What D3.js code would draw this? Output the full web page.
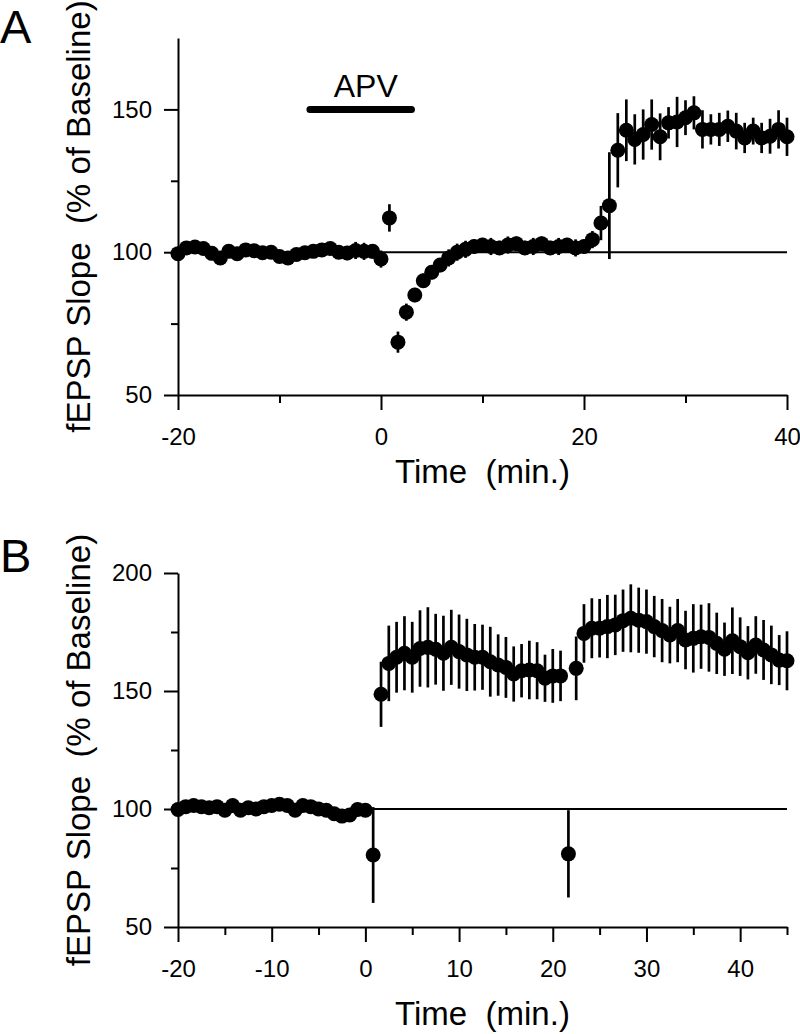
<!DOCTYPE html>
<html>
<head>
<meta charset="utf-8">
<script src="https://cdn.jsdelivr.net/npm/d3@7"></script>
<style>
  html, body { margin: 0; padding: 0; background: #fff; }
  svg { display: block; }
  text { font-family: "Liberation Sans", Arial, Helvetica, sans-serif; fill: #000; }
</style>
</head>
<body>
<svg id="chart" width="800" height="1034"></svg>
<script>
// ---------------- DATA ----------------
const timesA = [-20, -19.17, -18.33, -17.5, -16.67, -15.83, -15, -14.17, -13.33, -12.5, -11.67, -10.83, -10, -9.17, -8.33, -7.5, -6.67, -5.83, -5, -4.17, -3.33, -2.5, -1.67, -0.83, 0,
  0.83, 1.67, 2.5, 3.33, 4.17, 5, 5.83, 6.67, 7.5, 8.33, 9.17, 10, 10.83, 11.67, 12.5, 13.33, 14.17, 15, 15.83, 16.67, 17.5, 18.33, 19.17, 20,
  20.83, 21.67, 22.5, 23.33, 24.17, 25, 25.83, 26.67, 27.5, 28.33, 29.17, 30, 30.83, 31.67, 32.5, 33.33, 34.17, 35, 35.83, 36.67, 37.5, 38.33, 39.17, 40];
const slopeA = [99.5, 101.5, 101.8, 101.3, 99.6, 98, 100.3, 99.5, 100.8, 100.5, 99.8, 100, 98.5, 98, 99.2, 99.8, 100.3, 100.8, 101.3, 100, 99.7, 100.6, 100.3, 100.3, 97.6,
  112, 68.5, 79, 85, 90, 93, 95.5, 98, 100, 101, 102, 102.5, 102, 101.5, 102.5, 103, 101.5, 102, 103, 101.5, 102, 102.5, 101.5, 102,
  104.4, 110.2, 116.3, 135.7, 142.7, 139.5, 141.2, 144.7, 140.4, 145.3, 145.6, 147.1, 148.8, 143, 143, 143, 144.1, 142.4, 140, 142.4, 140, 140.6, 143, 140.4];
const semA = [1.5, 1.5, 1.5, 1.5, 1.5, 2, 1.5, 1.5, 1.5, 1.5, 1.5, 1.5, 2, 1.5, 1.5, 1.5, 1.5, 2, 2, 2, 2.5, 3, 3, 2.5, 3,
  4.8, 3.7, 3, 2.5, 2.5, 2.5, 2.5, 3, 3, 3, 2.5, 2.5, 3, 2.5, 3, 2.5, 2.5, 3, 2.5, 2.5, 3, 2.5, 3, 2.5,
  3, 6, 18.7, 13, 10.8, 8.8, 8.8, 8.8, 8.2, 5.5, 8.8, 6.1, 5.8, 6.7, 5.3, 5.8, 5.5, 6.4, 5.3, 4.7, 5.3, 6.1, 6.7, 6.7];

const timesB = [-20, -19.17, -18.33, -17.5, -16.67, -15.83, -15, -14.17, -13.33, -12.5, -11.67, -10.83, -10, -9.17, -8.33, -7.5, -6.67, -5.83, -5, -4.17, -3.33, -2.5, -1.67, -0.83, 0,
  0.83, 1.67, 2.5, 3.33, 4.17, 5, 5.83, 6.67, 7.5, 8.33, 9.17, 10, 10.83, 11.67, 12.5, 13.33, 14.17, 15, 15.83, 16.67, 17.5, 18.33, 19.17, 20, 20.83, 21.67,
  22.5, 23.33, 24.17, 25, 25.83, 26.67, 27.5, 28.33, 29.17, 30, 30.83, 31.67, 32.5, 33.33, 34.17, 35, 35.83, 36.67, 37.5, 38.33, 39.17, 40, 40.83, 41.67, 42.5, 43.33, 44.17, 45];
const slopeB = [99.8, 101, 101.5, 101, 100.5, 101, 99.5, 101.5, 99.5, 100.5, 100, 101, 101.5, 102, 101.5, 99.5, 101.5, 101, 100, 99.5, 98, 97, 97.5, 99.8, 99.5,
  80.5, 148.6, 161.7, 164.3, 166, 164.3, 168, 168.5, 167.7, 166, 168.5, 166.7, 165.3, 164.3, 164.3, 162.4, 161, 160, 157.2, 158.6, 158.9, 158.6, 155.4, 156.4, 156.4, 81,
  159.6, 174.4, 176.6, 176.6, 177.3, 178, 179.8, 180.8, 180, 179.4, 177.3, 175.6, 173.7, 175.6, 171.6, 172.3, 173, 172.7, 170.2, 167.7, 171.3, 168.8, 166.2, 169.5, 167.4, 165.3, 163.1, 162.8];
const semB = [1.5, 1.5, 1.5, 1.5, 1.5, 1.5, 1.5, 1.5, 1.5, 1.5, 1.5, 1.5, 1.5, 1.5, 1.5, 1.5, 1.5, 1.5, 1.5, 1.5, 2, 2, 2, 2, 2,
  20.3, 13.8, 16, 15, 15.7, 15, 16.2, 17, 15, 15.9, 15.9, 15.7, 15.3, 14.1, 13.8, 14.8, 13, 12.9, 11.7, 11.3, 12.4, 12.1, 10, 11.4, 10.7, 18.5,
  13.5, 12.4, 12.7, 12.4, 13.4, 12.8, 13.2, 14.4, 13.8, 13.6, 13, 13.4, 12, 13.4, 12.4, 14.5, 13.6, 14.5, 13, 11.3, 14.1, 12.4, 11.3, 12.2, 12.7, 12.4, 10.6, 12.5];

const xTicksMajorA = [-20, 0, 20, 40];
const xTicksMinorA = [-10, 10, 30];
const yTicksMajorA = [50, 100, 150];
const yTicksMinorA = [75, 125];
const xTicksMajorB = [-20, -10, 0, 10, 20, 30, 40];
const xTicksMinorB = [-15, -5, 5, 15, 25, 35, 45];
const yTicksMajorB = [50, 100, 150, 200];
const yTicksMinorB = [75, 125, 175];
const apvPeriod = [-7, 3];
const apvLevel = 150;
const baselineLevel = 100;

// ---------------- DRAW ----------------
const svg = d3.select("#chart");
const fmt = d => String(d); // plain hyphen-minus, as in the original

function panel(cfg) {
  const g = svg.append("g");
  const x = d3.scaleLinear().domain(cfg.xDomain).range([178, 787]);
  const y = d3.scaleLinear().domain(cfg.yDomain).range(cfg.yRange);

  // minor ticks
  g.append("g").attr("transform", `translate(0,${y(cfg.yDomain[0])})`)
    .call(d3.axisBottom(x).tickValues(cfg.xMinor).tickSize(8).tickSizeOuter(0).tickFormat(""))
    .call(a => a.select(".domain").remove());
  g.append("g").attr("transform", `translate(${x(cfg.xDomain[0])},0)`)
    .call(d3.axisLeft(y).tickValues(cfg.yMinor).tickSize(7).tickSizeOuter(0).tickFormat(""))
    .call(a => a.select(".domain").remove());

  // major axes
  const xa = g.append("g").attr("transform", `translate(0,${y(cfg.yDomain[0])})`)
    .call(d3.axisBottom(x).tickValues(cfg.xMajor).tickSize(15).tickSizeOuter(0).tickPadding(18).tickFormat(fmt));
  const ya = g.append("g").attr("transform", `translate(${x(cfg.xDomain[0])},0)`)
    .call(d3.axisLeft(y).tickValues(cfg.yMajor).tickSize(14).tickSizeOuter(0).tickPadding(12).tickFormat(fmt));
  g.selectAll(".domain, .tick line").attr("stroke", "#000").attr("stroke-width", 2);
  [xa, ya].forEach(a => a.selectAll("text").attr("font-size", 24).attr("font-family", "Liberation Sans, Arial, sans-serif").attr("fill", "#000"));

  // baseline reference line
  g.append("line")
    .attr("x1", x(0)).attr("x2", x(cfg.xDomain[1]))
    .attr("y1", y(baselineLevel)).attr("y2", y(baselineLevel))
    .attr("stroke", "#000").attr("stroke-width", 2);

  const data = cfg.t.map((t, i) => ({ t, v: cfg.v[i], e: cfg.e[i] }));
  // error bars
  g.append("g").selectAll("line").data(data).join("line")
    .attr("x1", d => x(d.t)).attr("x2", d => x(d.t))
    .attr("y1", d => y(d.v - d.e)).attr("y2", d => y(d.v + d.e))
    .attr("stroke", "#000").attr("stroke-width", 2.7);
  // points
  g.append("g").selectAll("circle").data(data).join("circle")
    .attr("cx", d => x(d.t)).attr("cy", d => y(d.v)).attr("r", 7.5)
    .attr("fill", "#000");

  // axis titles
  g.append("text").attr("x", (x.range()[0] + x.range()[1]) / 2).attr("y", cfg.titleY)
    .attr("text-anchor", "middle").attr("font-size", 33).style("white-space", "pre")
    .text("Time  (min.)");
  const cy = (y.range()[0] + y.range()[1]) / 2;
  g.append("text").attr("transform", `translate(90,${cy}) rotate(-90)`)
    .attr("text-anchor", "middle").attr("font-size", 33).style("white-space", "pre")
    .text("fEPSP Slope  (% of Baseline)");
  // panel letter
  g.append("text").attr("x", 0).attr("y", cfg.letterY).attr("font-size", 47).text(cfg.letter);
  return { g, x, y };
}

const A = panel({
  xDomain: [-20, 40], yDomain: [50, 175], yRange: [395, 38],
  xMajor: xTicksMajorA, xMinor: xTicksMinorA, yMajor: yTicksMajorA, yMinor: yTicksMinorA,
  t: timesA, v: slopeA, e: semA, titleY: 483, letter: "A", letterY: 43
});
// APV bar
A.g.append("line")
  .attr("x1", A.x(apvPeriod[0])).attr("x2", A.x(apvPeriod[1]))
  .attr("y1", A.y(apvLevel)).attr("y2", A.y(apvLevel))
  .attr("stroke", "#000").attr("stroke-width", 7).attr("stroke-linecap", "round");
A.g.append("text").attr("x", A.x(-1.5)).attr("y", A.y(apvLevel) - 12)
  .attr("text-anchor", "middle").attr("font-size", 32).text("APV");

panel({
  xDomain: [-20, 45], yDomain: [50, 200], yRange: [927, 573],
  xMajor: xTicksMajorB, xMinor: xTicksMinorB, yMajor: yTicksMajorB, yMinor: yTicksMinorB,
  t: timesB, v: slopeB, e: semB, titleY: 1025, letter: "B", letterY: 572
});
</script>
</body>
</html>
